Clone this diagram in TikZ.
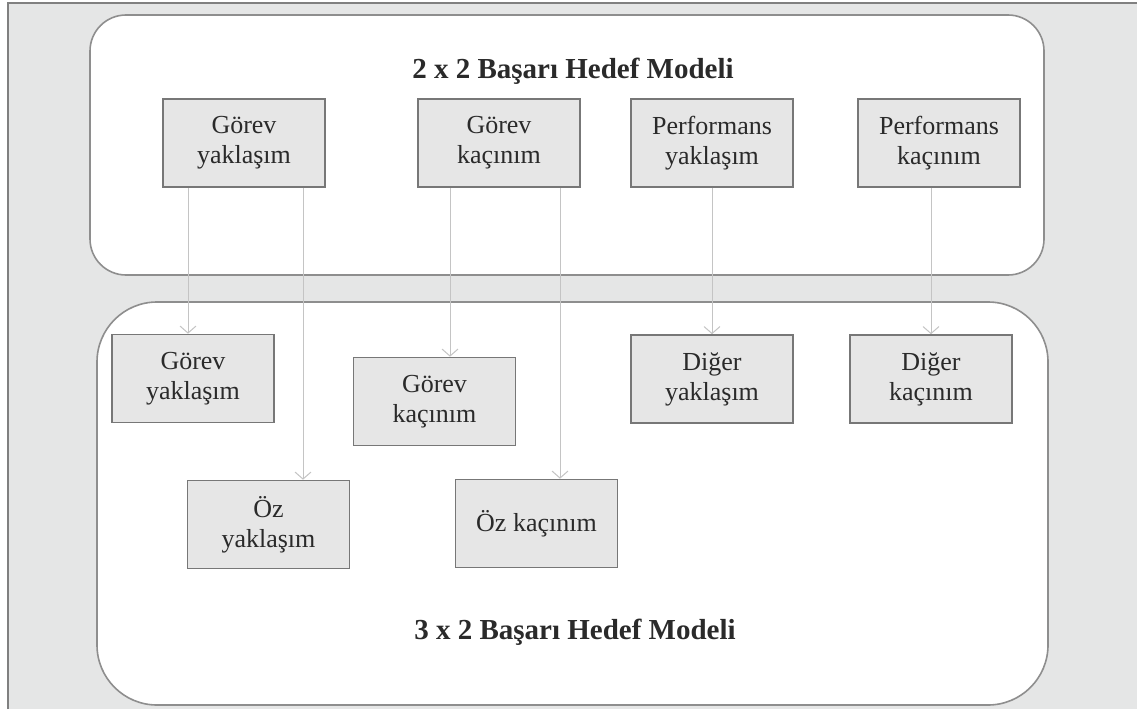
\documentclass[tikz,border=0pt]{standalone}
\usepackage{fontspec}
\setmainfont{Liberation Serif}
\usetikzlibrary{arrows.meta}
\definecolor{bgc}{HTML}{E5E6E6}
\definecolor{boxc}{HTML}{E6E6E6}
\definecolor{boxline}{HTML}{777777}
\definecolor{panelline}{HTML}{8E8E8E}
\definecolor{arrc}{HTML}{C4C4C4}
\definecolor{txt}{HTML}{2A2A2A}
\tikzset{
  gbox/.style={draw=boxline, line width=1.6pt, fill=boxc, minimum width=162pt, minimum height=88pt,
    inner sep=0pt, align=center, text=txt, font=\fontsize{26}{30}\selectfont},
  panel/.style={draw=panelline, line width=1.6pt, fill=white},
  arr/.style={draw=arrc, line width=1pt, -{Straight Barb[length=7pt,width=16pt,line width=1pt]}},
  ttl/.style={text=txt, font=\fontsize{29}{33}\selectfont\bfseries, inner sep=0pt}
}
\begin{document}
\begin{tikzpicture}[x=1pt,y=-1pt]
\useasboundingbox (0,0) rectangle (1137,709);
\fill[white] (0,0) rectangle (1137,709);
\fill[bgc] (8,3) rectangle (1137,709);
\draw[gray, line width=1.2pt] (8,709) -- (8,3) -- (1137,3);
% panels
\draw[panel, rounded corners=36pt] (90,15) rectangle (1044,275);
\draw[panel, rounded corners=60pt] (97,302) rectangle (1048,705);
\node[ttl] (t1) at (573,71) {2 x 2 Başarı Hedef Modeli};
\node[ttl] (t2) at (575,632) {3 x 2 Başarı Hedef Modeli};
% top boxes
\node[gbox] (b1) at (244,143) {Görev\\yaklaşım};
\node[gbox] (b2) at (499,143) {Görev\\kaçınım};
\node[gbox] (b3) at (712,143) {Performans\\yaklaşım};
\node[gbox] (b4) at (939,143) {Performans\\kaçınım};
% bottom boxes
\node[gbox] (b5) at (193,378.5) {Görev\\yaklaşım};
\node[gbox] (b6) at (434.5,401.5) {Görev\\kaçınım};
\node[gbox] (b7) at (712,379) {Diğer\\yaklaşım};
\node[gbox] (b8) at (931,379) {Diğer\\kaçınım};
\node[gbox] (b9) at (268.5,524.5) {Öz\\yaklaşım};
\node[gbox] (b10) at (536.5,523.5) {Öz kaçınım};
% arrows
\draw[arr] (b1.south -| 188,0) -- (b5.north -| 188,0);
\draw[arr] (b1.south -| 303,0) -- (b9.north -| 303,0);
\draw[arr] (b2.south -| 450,0) -- (b6.north -| 450,0);
\draw[arr] (b2.south -| 560,0) -- (b10.north -| 560,0);
\draw[arr] (b3.south) -- (b7.north);
\draw[arr] (b4.south -| 931,0) -- (b8.north);
\end{tikzpicture}
\end{document}
